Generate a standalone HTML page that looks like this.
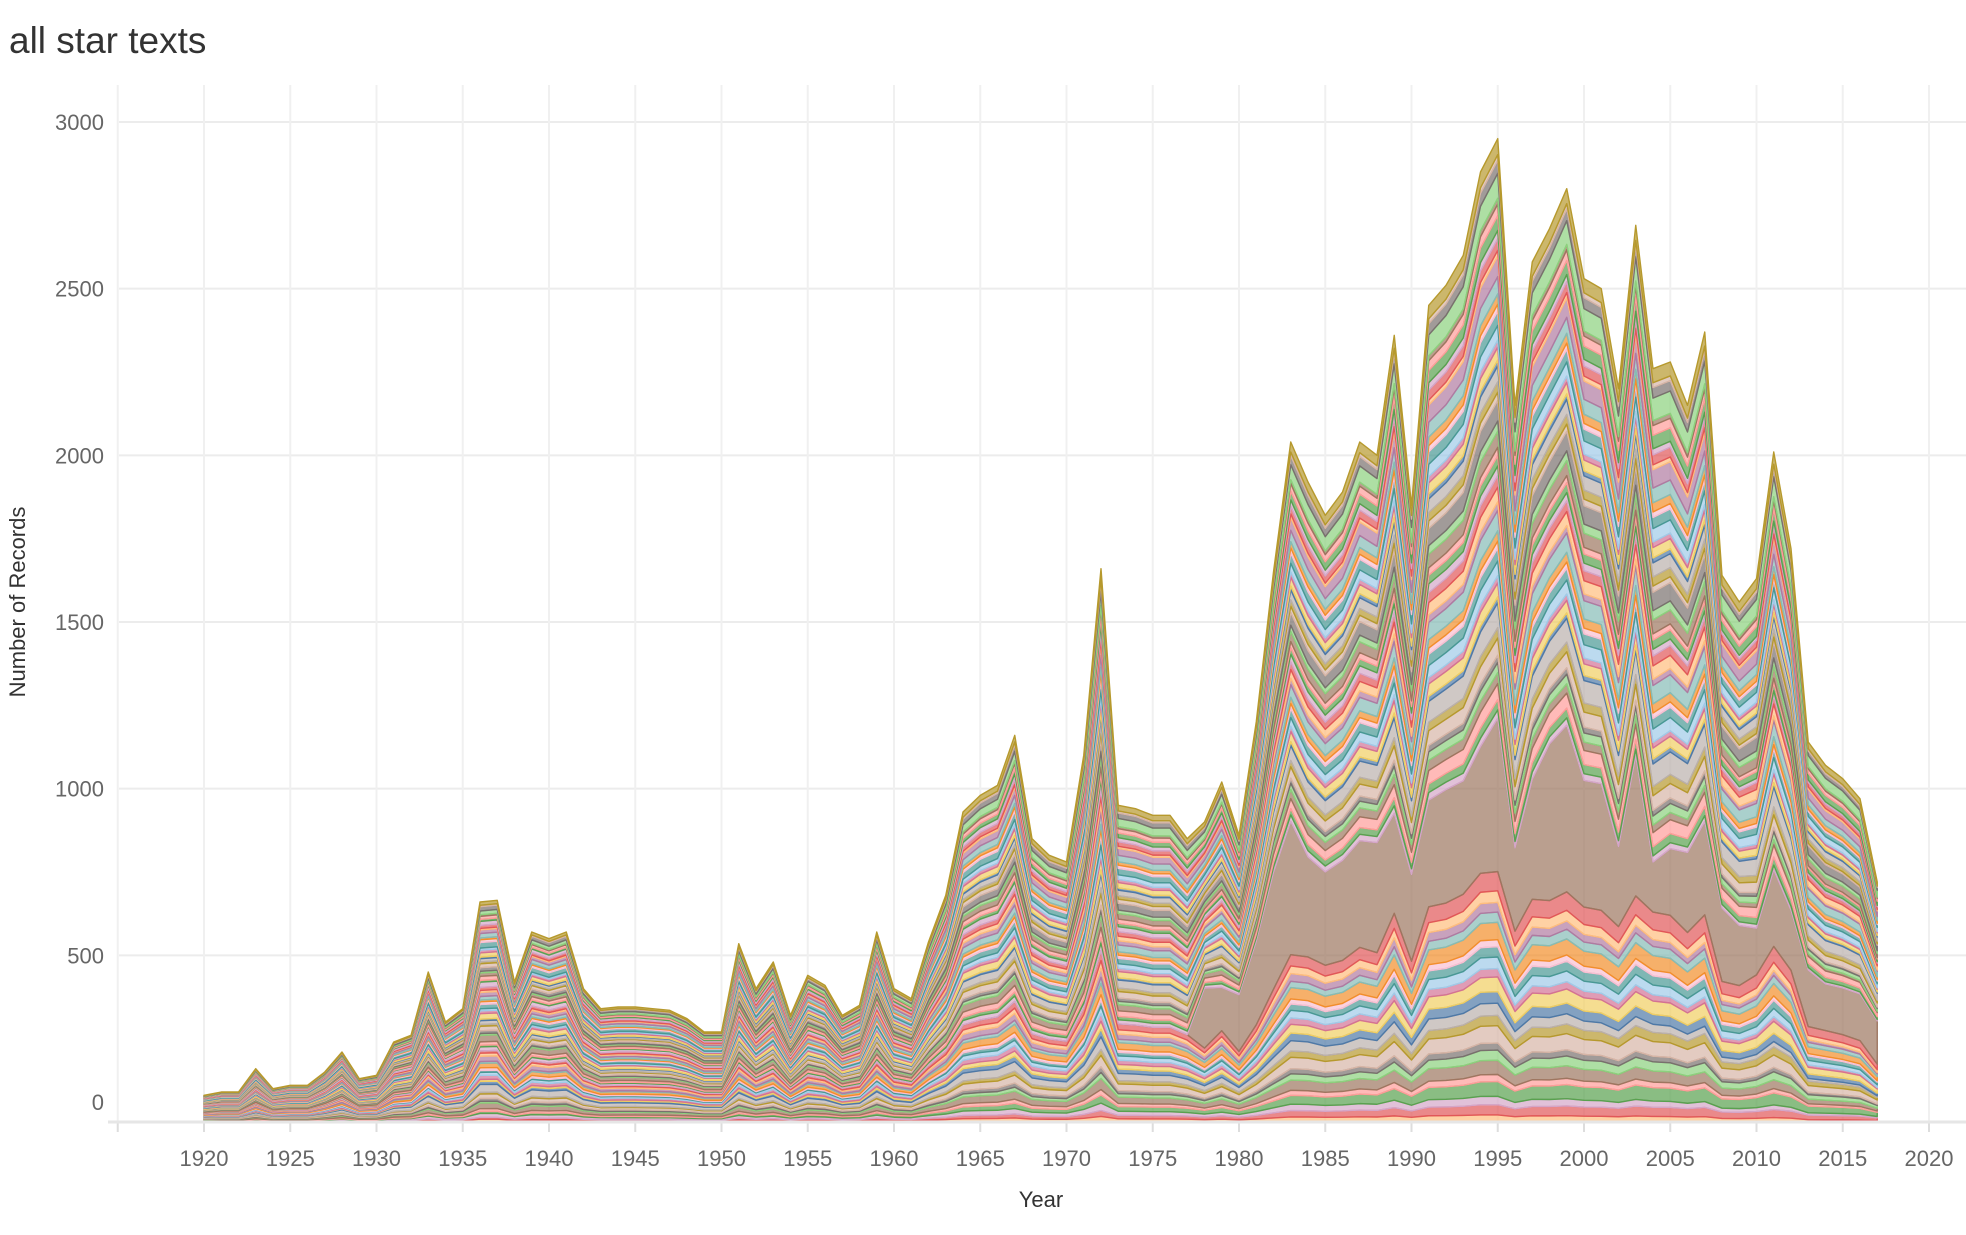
<!DOCTYPE html>
<html><head><meta charset="utf-8"><style>
body{margin:0;background:#fff;}
svg text{font-family:"Liberation Sans",sans-serif;}
</style></head><body>
<svg id="chart" width="1966" height="1230" xmlns="http://www.w3.org/2000/svg">
<text x="9" y="53" font-size="37" fill="#333">all star texts</text>
<g id="grid"></g>
<g id="areas"></g>
<g id="axes"></g>
<text x="1041" y="1207" font-size="22" fill="#333" text-anchor="middle">Year</text>
<text transform="translate(25,602) rotate(-90)" font-size="22" fill="#333" text-anchor="middle">Number of Records</text>
</svg>
<script>
const years = [];
for (let y = 1920; y <= 2017; y++) years.push(y);
const totals = [80,90,90,160,100,110,110,150,210,130,140,240,260,450,300,340,660,665,420,570,550,570,400,340,345,345,340,335,310,270,270,535,400,480,320,440,410,320,350,570,400,370,540,680,930,980,1010,1160,850,800,780,1100,1660,950,940,920,920,850,900,1020,860,1200,1650,2040,1920,1820,1890,2040,2000,2360,1850,2450,2510,2600,2850,2950,2150,2580,2680,2800,2530,2500,2200,2690,2260,2280,2150,2370,1640,1560,1630,2010,1720,1140,1070,1030,970,720];
const brownYears = [1978,1979,1980,1981,1982,1983,1984,1985,1986,1987,1988,1989,1990,1991,1992,1993,1994,1995,1996,1997,1998,1999,2000,2001,2002,2003,2004,2005,2006,2007,2008,2009,2010,2011,2012,2013,2014,2015,2016,2017];
const brownValues = [180,130,170,250,350,400,300,280,300,320,330,300,260,320,340,340,380,460,250,360,470,500,380,380,240,420,150,200,240,280,220,180,140,230,180,170,140,140,140,130];
const earlyWeights = [2,1,3,1,2,4,1,2,3,1,6,2,1,3,2,1,2,3,1,4,2,1,3,1,2,5,1,2,3,1,2,1,4,2,1,3,2,1,2,3,1,2,4,1,3,2,1,2,3,1,2,1,3,2,1,4,2,1,3,2,1,2,3,1,2,1,2,3,1,2];
const lateWeights = [1,2,1,3,1,2,2,1,3,2,1,2,3,1,2,2,1,3,2,1,2,4,1,2,3,1,2,1,3,2,5,1,2,1,3,2,1,2,4,1,3,2,1,2,1,3,2,4,1,2,3,1,2,1,3,2,1,2,3,4,1,2,1,3,2,1,5,2,1,3];
const yTicks = [0,500,1000,1500,2000,2500,3000];
const xTicks = [1920,1925,1930,1935,1940,1945,1950,1955,1960,1965,1970,1975,1980,1985,1990,1995,2000,2005,2010,2015,2020];
const palette = ["#4e79a7","#a0cbe8","#f28e2b","#ffbe7d","#59a14f","#8cd17d","#b6992d","#f1ce63","#499894","#86bcb6","#e15759","#ff9d9a","#79706e","#bab0ac","#d37295","#fabfd2","#b07aa1","#d4a6c8","#9d7660","#d7b5a6"];
const X = yr => 204 + (yr - 1920) * 17.25;
const Y = v => 1122 - v / 3;
const NS = "http://www.w3.org/2000/svg";
function mk(tag, attrs, parent){const e=document.createElementNS(NS,tag);for(const k in attrs)e.setAttribute(k,attrs[k]);parent.appendChild(e);return e;}
const grid=document.getElementById('grid'), axes=document.getElementById('axes'), areas=document.getElementById('areas');
yTicks.forEach(t=>{
  const l=mk('line',{x1:119,x2:1966,y1:Y(t),y2:Y(t),stroke:'#ececec','stroke-width':2},grid);
  
  
  const tx=mk('text',{x:104,y:Y(t)+8-(t===0?20:0),'font-size':22,fill:'#666','text-anchor':'end'},axes);
  tx.textContent=t;
  
  
});
[1915].concat(xTicks).forEach(t=>{
  const l=mk('line',{x1:X(t),x2:X(t),y1:85,y2:1122,stroke:'#f0f0f0','stroke-width':2},grid);
  
  
  const tk=mk('line',{x1:X(t),x2:X(t),y1:1122,y2:1132,stroke:'#ddd','stroke-width':2},axes);
  
  
});
xTicks.forEach(t=>{
  const tx=mk('text',{x:X(t),y:1166,'font-size':22,fill:'#666','text-anchor':'middle'},axes);
  tx.textContent=t;
  
  
});
const ax=mk('line',{x1:108,x2:1966,y1:1122,y2:1122,stroke:'#e6e6e6','stroke-width':3},axes);


const brownAt = years.map(y=>{const i=brownYears.indexOf(y);return i<0?0:brownValues[i];});
const eSum = earlyWeights.reduce((a,b)=>a+b,0), lSum = lateWeights.reduce((a,b)=>a+b,0);
const layers=[];
earlyWeights.forEach((w,i)=>{
  if(i===22) layers.push({vals:brownAt,color:'#9d7660'});
  layers.push({vals:totals.map((t,j)=>{const f=j/(years.length-1);return (t-brownAt[j])*((1-f)*w/eSum+f*lateWeights[i]/lSum);}),color:palette[(i*7+3)%20]});
});
let base=years.map(()=>0);
layers.forEach(L=>{
  const top=base.map((b,j)=>b+L.vals[j]);
  let d='M'+years.map((y,j)=>X(y)+','+Y(top[j])).join('L');
  for(let j=years.length-1;j>=0;j--) d+='L'+X(years[j])+','+Y(base[j]);
  d+='Z';
  const p=mk('path',{d:d,fill:L.color,'fill-opacity':0.7,stroke:L.color,'stroke-width':1.4,'stroke-linejoin':'round'},areas);
  
  
  base=top;
});
</script>
</body></html>
